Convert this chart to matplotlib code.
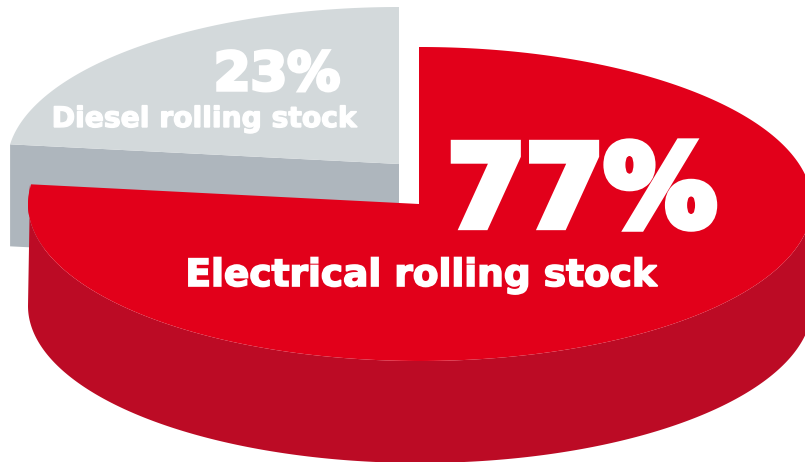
import numpy as np
import matplotlib
matplotlib.use('Agg')
import matplotlib.pyplot as plt
import matplotlib.patheffects as pe

labels = ['Electrical rolling stock', 'Diesel rolling stock']
shares = [77, 23]

RED_TOP = '#E2001A'
RED_SIDE = '#BC0B25'
GREY_TOP = '#D3D9DB'
GREY_SIDE = '#AEB6BD'

RX, RY = 392, 157
DEPTH = 102


def arc(cx, cy, t0, t1, n=300):
    t = np.radians(np.linspace(t0, t1, n))
    return cx + RX * np.cos(t), cy - RY * np.sin(t)


fig = plt.figure(figsize=(8.05, 4.62), dpi=100)
ax = fig.add_axes([0, 0, 1, 1])
ax.set_xlim(0, 805)
ax.set_ylim(462, 0)
ax.axis('off')

# slices run clockwise from twelve o'clock
red_end = 90 - shares[0] * 3.6

# grey slice, pulled out up and to the left
gx, gy = 399, 164
x, y = arc(gx, gy, red_end + 360, 90)
ax.fill([x[0], gx, gx, x[0]], [y[0], gy, gy + DEPTH, y[0] + DEPTH], color=GREY_SIDE, lw=0)
ax.fill(np.r_[gx, x], np.r_[gy, y], color=GREY_TOP, lw=0)

# red slice with its outer wall, the left edge runs straight down
rx, ry = 419, 204
x, y = arc(rx + 1, ry, -180, 0)
cx, cy = arc(rx + 1, ry, red_end, red_end, 1)
ax.fill(np.r_[cx - 1, x, x[::-1]], np.r_[cy, y, y[::-1] + DEPTH], color=RED_SIDE, lw=0)
x, y = arc(rx + 1, ry, 90, red_end)
ax.fill(np.r_[rx, rx, x], np.r_[ry, y[0], y], color=RED_TOP, lw=0)


def label(px, py, text, size, stroke):
    ax.text(px, py, text, color='white', fontsize=size, family='DejaVu Sans', fontweight='bold',
            ha='center', va='baseline',
            path_effects=[pe.withStroke(linewidth=stroke, foreground='white', joinstyle='miter')])


label(582, 226, f'{shares[0]}%', 81, 6)
label(421, 286, labels[0], 27, 1.2)
label(277, 90, f'{shares[1]}%', 38, 2.5)
label(205, 127, labels[1], 20.3, 1)

fig.savefig('out.png', dpi=100)
